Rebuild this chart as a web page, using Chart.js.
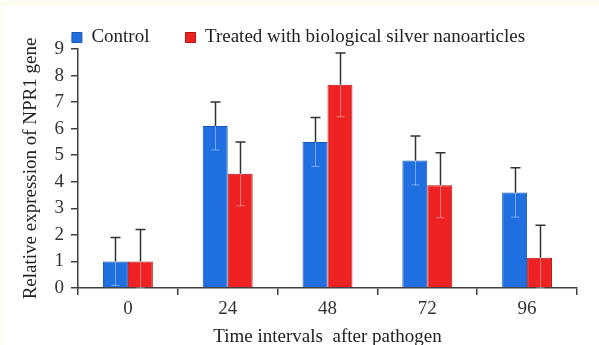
<!DOCTYPE html>
<html lang="en">
<head>
  <meta charset="UTF-8">
  <title>Relative expression of NPR1 gene</title>
  <script src="https://cdn.jsdelivr.net/npm/chart.js"></script>
  <style>
    body { margin: 0; background: #fdfbf2; }
    #wrap { width: 599px; height: 345px; position: relative; }
  </style>
</head>
<body>
  <div id="wrap"><canvas id="myChart" width="599" height="345"></canvas></div>
  <script>
    // data
    const hours = ['0', '24', '48', '72', '96'];
    const control = [1.0, 6.1, 5.5, 4.8, 3.6];
    const controlErr = [0.9, 0.9, 0.92, 0.92, 0.93];
    const treated = [1.0, 4.3, 7.65, 3.87, 1.14];
    const treatedErr = [1.2, 1.2, 1.2, 1.22, 1.22];

    const serif = '"Liberation Serif", "DejaVu Serif", serif';

    // cream frame round the white figure
    const framePlugin = {
      id: 'frame',
      beforeDraw(chart) {
        const c = chart.ctx;
        c.save();
        c.fillStyle = '#fdfbf2';
        c.fillRect(0, 0, chart.width, chart.height);
        c.fillStyle = '#ffffff';
        c.fillRect(4, 6, chart.width - 4, chart.height - 6);
        c.restore();
      }
    };

    // legend: wide gap between items but short box
    const legendFit = {
      id: 'legendFit',
      beforeInit(chart) {
        const fit = chart.legend.fit;
        chart.legend.fit = function () {
          fit.call(chart.legend);
          this.height = 57;
        };
      }
    };

    // error bars: dark upper whisker, faint lower part inside the bar
    const errorBars = {
      id: 'errorBars',
      afterDatasetsDraw(chart) {
        const c = chart.ctx;
        const y = chart.scales.y;
        const errs = [controlErr, treatedErr];
        chart.data.datasets.forEach((ds, i) => {
          const meta = chart.getDatasetMeta(i);
          meta.data.forEach((bar, j) => {
            const v = ds.data[j];
            const top = y.getPixelForValue(v + errs[i][j]);
            const low = y.getPixelForValue(Math.max(0, v - errs[i][j]));
            const base = y.getPixelForValue(v);
            const x = Math.round(bar.x) + 0.5;
            c.save();
            c.strokeStyle = 'rgba(255,255,255,0.4)';
            c.lineWidth = 1;
            c.beginPath();
            c.moveTo(x, base);
            c.lineTo(x, low);
            c.moveTo(x - 4, low);
            c.lineTo(x + 4, low);
            c.stroke();
            c.strokeStyle = '#333333';
            c.lineWidth = 1.5;
            c.beginPath();
            c.moveTo(x, base);
            c.lineTo(x, top);
            c.moveTo(x - 5, top);
            c.lineTo(x + 5, top);
            c.stroke();
            c.restore();
          });
        });
      }
    };

    const ctx = document.getElementById('myChart').getContext('2d');
    const myChart = new Chart(ctx, {
      type: 'bar',
      data: {
        labels: hours,
        datasets: [
          {
            label: 'Control',
            data: control,
            backgroundColor: '#1f6fe0',
            borderColor: '#1656b8',
            borderWidth: 1,
            categoryPercentage: 0.5,
            barPercentage: 1.0
          },
          {
            label: 'Treated with biological silver nanoarticles',
            data: treated,
            backgroundColor: '#ee2222',
            borderColor: '#b41414',
            borderWidth: 1,
            categoryPercentage: 0.5,
            barPercentage: 1.0
          }
        ]
      },
      options: {
        responsive: false,
        animation: false,
        layout: { padding: { left: 20, right: 22, top: -8, bottom: 0 } },
        plugins: {
          tooltip: { enabled: false },
          legend: {
            position: 'top',
            labels: {
              color: '#222',
              font: { family: serif, size: 19 },
              boxWidth: 10,
              boxHeight: 10,
              padding: 36
            }
          }
        },
        scales: {
          x: {
            grid: { display: true, drawOnChartArea: false, offset: true, tickLength: 7, color: '#404040', lineWidth: 1.5 },
            border: { color: '#404040', width: 1.5 },
            ticks: { color: '#333', font: { family: serif, size: 19 }, padding: 3 },
            title: {
              display: true,
              text: 'Time intervals  after pathogen',
              color: '#222',
              font: { family: serif, size: 19 },
              padding: { top: 0, bottom: -3 }
            },
            afterFit(scale) { scale.height = 57; }
          },
          y: {
            min: 0,
            max: 9,
            grid: { display: true, drawOnChartArea: false, tickLength: 7, color: '#404040', lineWidth: 1.5 },
            border: { color: '#404040', width: 1.5 },
            ticks: { stepSize: 1, color: '#333', font: { family: serif, size: 19 }, padding: 7 },
            title: {
              display: true,
              text: 'Relative expression of NPR1 gene',
              color: '#222',
              font: { family: serif, size: 19 },
              padding: 0
            },
            afterFit(scale) { scale.width = 58; }
          }
        }
      },
      plugins: [framePlugin, legendFit, errorBars]
    });
  </script>
</body>
</html>
